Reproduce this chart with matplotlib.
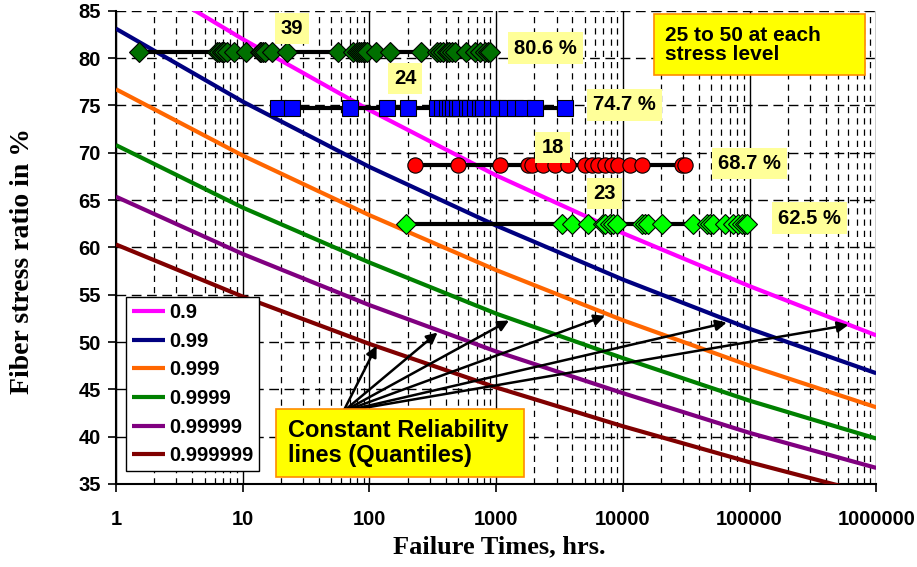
import matplotlib
matplotlib.use("Agg")
import matplotlib.pyplot as plt
from matplotlib.patches import Rectangle
from matplotlib.ticker import LogLocator, FixedLocator, NullFormatter

# ---------------- data ----------------
times = [1, 10, 100, 1000, 10000, 100000, 1000000]
q_0_9 = [90.0, 82.0, 74.5, 67.6, 61.5, 55.9, 50.7]
q_0_99 = [83.1, 75.4, 68.5, 62.3, 56.6, 51.4, 46.7]
q_0_999 = [76.7, 69.7, 63.4, 57.6, 52.3, 47.5, 43.1]
q_0_9999 = [70.8, 64.2, 58.4, 53.0, 48.3, 43.8, 39.8]
q_0_99999 = [65.35, 59.3, 53.9, 49.0, 44.6, 40.4, 36.7]
q_0_999999 = [60.3, 54.8, 49.8, 45.2, 41.1, 37.3, 33.8]

quant_labels = ["0.9", "0.99", "0.999", "0.9999", "0.99999", "0.999999"]
quant_series = [q_0_9, q_0_99, q_0_999, q_0_9999, q_0_99999, q_0_999999]
quant_colors = ["#FF00FF", "#000080", "#FF6600", "#008000", "#800080", "#800000"]

level_806 = 80.6
times_806 = [1.53, 6.23, 6.54, 6.83, 6.9, 7.16, 7.5, 8.54, 10.6, 13.7, 14.0, 14.4, 15.0,
             17.1, 22.2, 56.2, 74.6, 80, 83.2, 86, 89.5, 93, 96.3, 113, 145, 254,
             340, 361, 383, 407, 425, 446, 474, 579, 682, 747, 817, 860, 895]
level_747 = 74.7
times_747 = [19.1, 24.4, 70.3, 137, 201, 342, 372, 408, 433, 459, 491, 519, 586, 622,
             681, 746, 793, 923, 1035, 1213, 1410, 1640, 2029, 3497]
level_687 = 68.7
times_687 = [229, 503, 1074, 1795, 1910, 2357, 2915, 3713, 5030, 5683, 6410, 7235,
             8170, 9210, 11400, 14100, 29150, 30980]
level_625 = 62.5
times_625 = [194.5, 3296, 3954, 5345, 6985, 7235, 7920, 8360, 8950, 14100, 14970, 15900,
             20270, 35970, 45910, 48760, 51780, 64080, 74530, 81150, 86850, 92140, 95060]

count_labels = ["39", "24", "18", "23"]
level_labels = ["80.6 %", "74.7 %", "68.7 %", "62.5 %"]

arrow_tail = (62.2, 42.66)
arrow_heads_x = [114, 345, 1265, 7230, 66070, 602500]
arrow_heads_y = [49.6, 51.0, 52.27, 52.76, 52.05, 51.8]

# ---------------- figure ----------------
plt.rcParams['font.family'] = ['Liberation Sans', 'DejaVu Sans']
FS = 14.5
fig = plt.figure(figsize=(9.17, 5.67), dpi=100)
ax = fig.add_axes([0.1265, 0.1464, 0.8291, 0.8347])

ax.set_xscale('log')
ax.set_xlim(1, 1e6)
ax.set_ylim(35, 85)

# grid
ax.xaxis.set_minor_locator(LogLocator(base=10, subs=range(2, 10), numticks=100))
ax.xaxis.set_minor_formatter(NullFormatter())
ax.grid(which='major', axis='x', color='black', ls='-', lw=1.0, zorder=0)
ax.grid(which='minor', axis='x', color='black', ls=(0, (5, 4)), lw=0.9, zorder=0)
ax.grid(which='major', axis='y', color='black', ls=(0, (7, 4)), lw=1.0, zorder=0)
ax.set_axisbelow(True)

for s in ['top', 'right']:
    ax.spines[s].set_visible(False)
for s in ['left', 'bottom']:
    ax.spines[s].set_linewidth(1.5)

xt = [1, 10, 100, 1000, 10000, 100000, 1000000]
ax.set_xticks(xt)
ax.set_xticklabels([str(v) for v in xt], fontsize=FS, fontweight='bold')
yt = list(range(35, 90, 5))
ax.set_yticks(yt)
ax.set_yticklabels([str(v) for v in yt], fontsize=FS, fontweight='bold')
ax.tick_params(axis='x', which='major', direction='out', length=6, width=1.2, pad=13)
ax.tick_params(axis='x', which='minor', length=0)
ax.tick_params(axis='y', which='major', direction='out', length=6, width=1.2, pad=5)

# quantile lines
handles = []
for lab, ser, col in zip(quant_labels, quant_series, quant_colors):
    h, = ax.plot(times, ser, color=col, lw=3, label=lab, zorder=3, solid_capstyle='butt')
    handles.append(h)

# data rows
ax.plot(times_806, [level_806] * len(times_806), color='black', lw=3, zorder=4,
        marker='D', ms=10, mfc='#007000', mec='black', mew=0.8)
ax.plot(times_747, [level_747] * len(times_747), color='black', lw=3, zorder=4,
        marker='s', ms=12, mfc='#0000FF', mec='black', mew=0.8)
ax.plot(times_687, [level_687] * len(times_687), color='black', lw=3, zorder=4,
        marker='o', ms=11, mfc='#FF0000', mec='black', mew=0.8)
ax.plot(times_625, [level_625] * len(times_625), color='black', lw=3, zorder=4,
        marker='D', ms=10, mfc='#00FF00', mec='black', mew=0.8)

lbl_box = dict(boxstyle='square,pad=0.3', fc='#FFFF99', ec='none')
count_pos = [(24.5, 83.1), (191, 77.8), (2786, 70.55), (7170, 65.7)]
for t, (x, y) in zip(count_labels, count_pos):
    ax.text(x, y, t, ha='center', va='center', fontsize=FS, fontweight='bold',
            bbox=lbl_box, zorder=5)
level_pos = [(2455, 81.06), (10310, 75.04), (100000, 68.9), (297800, 63.1)]
for t, (x, y) in zip(level_labels, level_pos):
    ax.text(x, y, t, ha='center', va='center', fontsize=FS, fontweight='bold',
            bbox=lbl_box, zorder=5)

# "25 to 50" box
ax.add_patch(Rectangle((0.7076, 0.864), 0.2777, 0.129, transform=ax.transAxes,
                       fc='#FFFF00', ec='#FF8C00', lw=1.2, zorder=6, clip_on=False))
ax.text(0.722, 0.9285, "25 to 50 at each\nstress level", transform=ax.transAxes,
        ha='left', va='center', fontsize=15, fontweight='bold', linespacing=1.0,
        zorder=7)

# arrows + Constant reliability box
for hx, hy in zip(arrow_heads_x, arrow_heads_y):
    ax.annotate('', xy=(hx, hy), xytext=arrow_tail,
                arrowprops=dict(arrowstyle='-|>', color='black', lw=1.8,
                                mutation_scale=16, shrinkA=0, shrinkB=0),
                zorder=5)
ax.add_patch(Rectangle((0.2104, 0.0148), 0.3262, 0.1437, transform=ax.transAxes,
                       fc='#FFFF00', ec='#FF8C00', lw=1.2, zorder=6, clip_on=False))
ax.text(0.2262, 0.0866, "Constant Reliability\nlines (Quantiles)", transform=ax.transAxes,
        ha='left', va='center', fontsize=17, fontweight='bold', linespacing=1.1,
        zorder=7)

leg = ax.legend(handles=handles, loc='upper left', bbox_to_anchor=(0.013, 0.395),
                prop=dict(size=FS, weight='bold'), frameon=True, fancybox=False,
                edgecolor='black', framealpha=1, borderpad=0.3, labelspacing=0.48,
                handlelength=1.65, handletextpad=0.2, borderaxespad=0)
leg.get_frame().set_linewidth(1.0)
leg.set_zorder(8)

ax.set_xlabel("Failure Times, hrs.", fontsize=19, fontweight='bold',
              family=['Liberation Serif', 'DejaVu Serif'])
ax.xaxis.set_label_coords(0.504, -0.108)
ax.set_ylabel("Fiber stress ratio in %", fontsize=20, fontweight='bold',
              family=['Liberation Serif', 'DejaVu Serif'])
ax.yaxis.set_label_coords(-0.1065, 0.471)

fig.savefig("out.png", dpi=100)
